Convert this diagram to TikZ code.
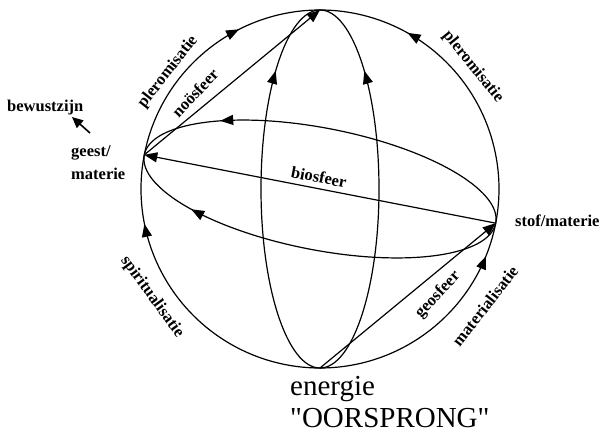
\documentclass[tikz,border=0pt]{standalone}
\usepackage{fontspec}
\setmainfont{Liberation Serif}
\newfontfamily\rawserif{Liberation Serif}[Ligatures=TeXOff]
\usetikzlibrary{arrows.meta,decorations.markings,calc}
\begin{document}
\begin{tikzpicture}[x=1pt,y=1pt,
  >={Triangle[length=13pt,width=10pt]},
  line/.style={line width=1.2pt},
  arrowat/.style={postaction={decorate},decoration={markings,mark=at position #1 with {\arrow{>}}}},
  lbl/.style={font=\bfseries\fontsize{16.5}{19}\selectfont, inner sep=0pt},
  big/.style={font=\rawserif\fontsize{29}{32}\selectfont, inner sep=0pt}]
\useasboundingbox (0,0) rectangle (602,434);
% key points
\coordinate (C) at (320,245);
\coordinate (T) at ($(C)+(90:179)$);
\coordinate (B) at ($(C)+(270:179)$);
\coordinate (L) at ($(C)+(169:179)$);
\coordinate (R) at ($(C)+(-11:179)$);
% outline of the sphere
\draw[line, arrowat=0.66] (L) arc[start angle=169, end angle=90, radius=179];
\draw[line, arrowat=0.71] (R) arc[start angle=-11, end angle=90, radius=179];
\draw[line, arrowat=0.78] (B) arc[start angle=270, end angle=169, radius=179];
\draw[line, arrowat=0.86] (B) arc[start angle=-90, end angle=-11, radius=179];
% meridian
\draw[line, arrowat=0.80] (B) arc[start angle=270, end angle=90, x radius=59, y radius=179];
\draw[line, arrowat=0.80] (B) arc[start angle=-90, end angle=90, x radius=59, y radius=179];
% equator
\draw[line, rotate=-11, arrowat=0.78] (R) arc[start angle=0, end angle=180, x radius=179, y radius=61];
\draw[line, rotate=-11, arrowat=0.81] (R) arc[start angle=0, end angle=-180, x radius=179, y radius=61];
% straight connectors
\draw[line, ->] (R) -- (L);
\draw[line, ->] (L) -- (T);
\draw[line, ->] (B) -- (R);
% labels
\node[lbl, rotate=52] (plL) at (168,362) {pleromisatie};
\node[lbl, rotate=-51] (plR) at (473,367) {pleromisatie};
\node[lbl, rotate=-54] (sp) at (152,137) {spiritualisatie};
\node[lbl, rotate=52] (ma) at (485,128) {materialisatie};
\node[lbl, rotate=47] (no) at (195,341) {noösfeer};
\node[lbl, rotate=47] (ge) at (438,139) {geosfeer};
\node[lbl, rotate=-11] (bi) at (319,257) {biosfeer};
\node[lbl, anchor=base west] (bw) at (7,322) {bewustzijn};
\node[lbl, anchor=base west] (gm1) at (71,277) {geest/};
\node[lbl, anchor=base west] (gm2) at (71,254) {materie};
\node[lbl, anchor=base west] (sm) at (515,207) {stof/materie};
\node[big, anchor=base west] (en) at (290,39) {energie};
\node[big, anchor=base west] (oo) at (290,7) {"OORSPRONG"};
% bewustzijn arrow
\coordinate (ba) at (90,301);
\coordinate (bh) at (72,317);
\draw[line width=1.6pt, -{Triangle[length=11pt,width=10pt]}] (ba) -- (bh);
\end{tikzpicture}
\end{document}
